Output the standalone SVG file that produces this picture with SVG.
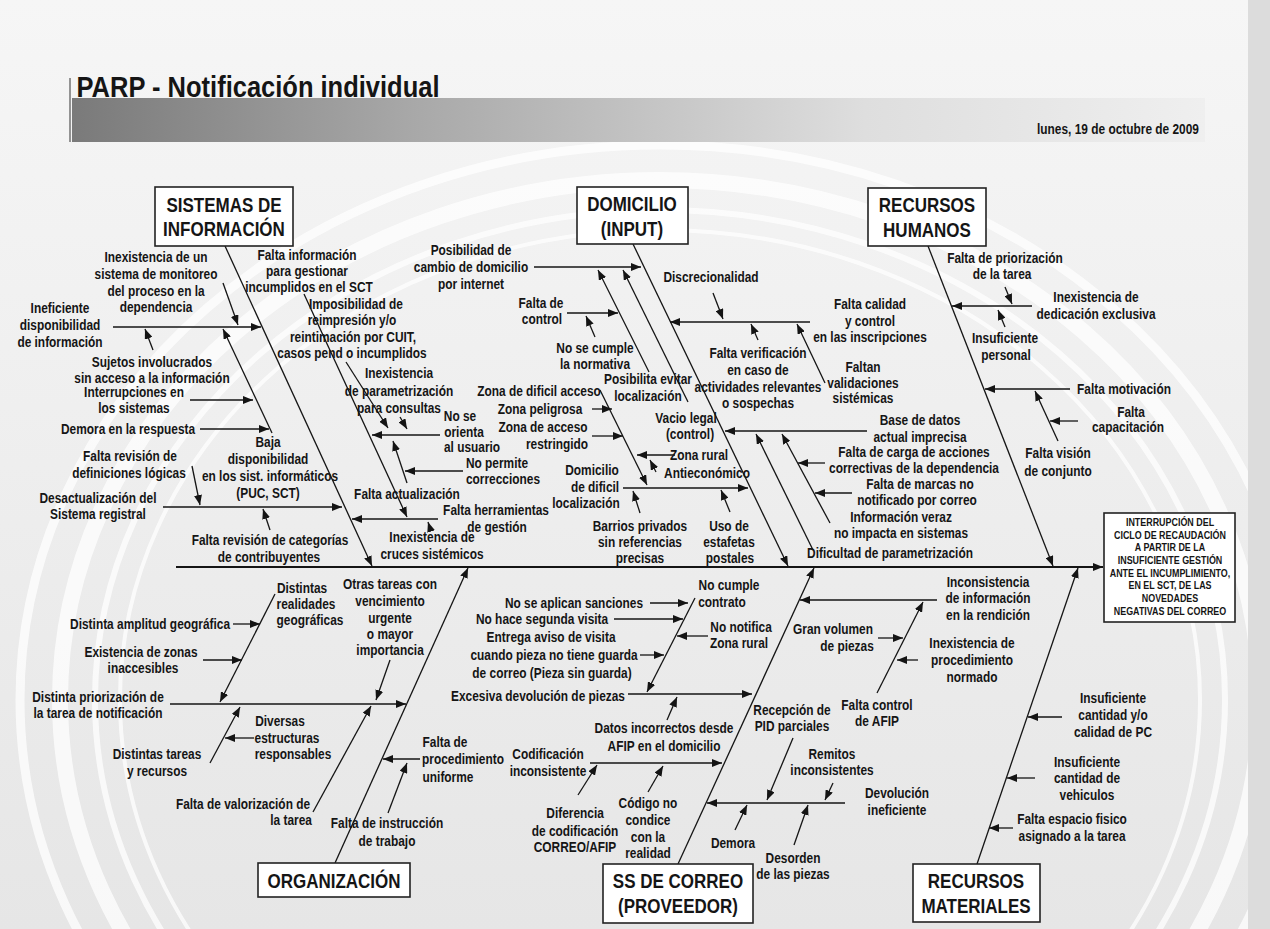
<svg xmlns="http://www.w3.org/2000/svg" width="1270" height="929" viewBox="0 0 1270 929">
<defs>
<linearGradient id="bgG" x1="0" y1="0" x2="0" y2="1"><stop offset="0" stop-color="#f6f6f6"/><stop offset="1" stop-color="#e6e6e6"/></linearGradient>
<linearGradient id="barG" x1="0" y1="0" x2="1" y2="0"><stop offset="0" stop-color="#7a7a7a"/><stop offset="0.3" stop-color="#a8a8a8"/><stop offset="0.7" stop-color="#dedede"/><stop offset="1" stop-color="#efefef"/></linearGradient>
<marker id="ah" viewBox="0 0 10 8" refX="10" refY="4" markerWidth="10" markerHeight="8" markerUnits="userSpaceOnUse" orient="auto"><path d="M0,0 L10,4 L0,8 z" fill="#141414"/></marker>
<style>
text{font-family:'Liberation Sans',Arial,sans-serif;font-weight:bold;fill:#151515;text-anchor:middle;transform-box:fill-box;transform-origin:center;transform:scaleX(0.85)}
.l{font-size:14px}
.c{font-size:20px}
.r{font-size:10.5px}
.ln{stroke:#151515;stroke-width:1.3;fill:none}
.a{marker-end:url(#ah)}
.box{fill:#fff;stroke:#222;stroke-width:1.6}
</style>
</defs>
<g id="background">
<rect width="1270" height="929" fill="url(#bgG)"/>
<g fill="none" stroke="#fff" opacity="0.75">
<ellipse cx="660" cy="700" rx="600" ry="520" stroke-width="16"/>
<ellipse cx="660" cy="700" rx="565" ry="490" stroke-width="6"/>
<ellipse cx="660" cy="700" rx="640" ry="555" stroke-width="9"/>
<ellipse cx="660" cy="700" rx="540" ry="470" stroke-width="4"/>
</g>
<rect x="1248" y="0" width="22" height="929" fill="#dcdcdc"/>
</g>
<g id="header">
<rect x="72" y="98" width="1133" height="44" fill="url(#barG)"/>
<line x1="70" y1="78" x2="70" y2="142" stroke="#333" stroke-width="1"/>
<text x="258" y="97" style="font-size:30px">PARP - Notificación individual</text>
<text x="1118" y="134" style="font-size:14px">lunes, 19 de octubre de 2009</text>
</g>
<g id="connectors">
<path class="ln" d="M176,567 L1103,567" style="stroke-width:2" marker-end="url(#ah)"/>
<path class="ln a" d="M225,246 L372,566"/>
<path class="ln a" d="M633,244 L788,566"/>
<path class="ln a" d="M928,246 L1053,566"/>
<path class="ln a" d="M335,863 L468,568"/>
<path class="ln a" d="M678,864 L814,568"/>
<path class="ln a" d="M977,864 L1078,568"/>
<path class="ln a" d="M113,327 L261,327"/>
<path class="ln a" d="M223,283 L238,325"/>
<path class="ln a" d="M153,350 L145,329"/>
<path class="ln a" d="M272,433 L223,329"/>
<path class="ln a" d="M190,400 L253,400"/>
<path class="ln a" d="M200,429 L269,429"/>
<path class="ln a" d="M163,507 L342,507"/>
<path class="ln a" d="M192,466 L200,505"/>
<path class="ln a" d="M270,530 L263,509"/>
<path class="ln a" d="M304,294 L407,517"/>
<path class="ln a" d="M346,362 L388,428"/>
<path class="ln a" d="M440,435 L372,435"/>
<path class="ln a" d="M400,417 L407,429"/>
<path class="ln a" d="M407,483 L393,441"/>
<path class="ln a" d="M463,471 L405,471"/>
<path class="ln a" d="M438,519 L352,519"/>
<path class="ln a" d="M431,531 L428,522"/>
<path class="ln a" d="M534,267 L641,267"/>
<path class="ln a" d="M649,372 L598,270"/>
<path class="ln a" d="M688,402 L623,270"/>
<path class="ln a" d="M567,313 L618,313"/>
<path class="ln a" d="M595,337 L586,316"/>
<path class="ln a" d="M713,293 L723,319"/>
<path class="ln a" d="M810,322 L670,322"/>
<path class="ln a" d="M758,340 L751,324"/>
<path class="ln a" d="M825,383 L797,324"/>
<path class="ln a" d="M600,390 L647,485"/>
<path class="ln a" d="M592,409 L612,409"/>
<path class="ln a" d="M592,436 L623,436"/>
<path class="ln a" d="M675,455 L637,455"/>
<path class="ln a" d="M656,472 L650,460"/>
<path class="ln a" d="M623,488 L748,488"/>
<path class="ln a" d="M640,513 L633,491"/>
<path class="ln a" d="M730,512 L721,490"/>
<path class="ln a" d="M867,431 L725,431"/>
<path class="ln a" d="M813,550 L756,434"/>
<path class="ln a" d="M830,523 L782,434"/>
<path class="ln a" d="M825,463 L798,463"/>
<path class="ln a" d="M852,493 L815,493"/>
<path class="ln a" d="M1005,287 L1012,304"/>
<path class="ln a" d="M1032,306 L952,306"/>
<path class="ln a" d="M1005,327 L998,310"/>
<path class="ln a" d="M1070,389 L985,389"/>
<path class="ln a" d="M1058,441 L1035,391"/>
<path class="ln a" d="M1078,421 L1050,421"/>
<path class="ln a" d="M390,660 L376,700"/>
<path class="ln a" d="M170,704 L406,704"/>
<path class="ln a" d="M275,594 L220,702"/>
<path class="ln a" d="M233,624 L260,624"/>
<path class="ln a" d="M203,660 L242,660"/>
<path class="ln a" d="M210,763 L240,707"/>
<path class="ln a" d="M254,738 L225,738"/>
<path class="ln a" d="M313,812 L371,706"/>
<path class="ln a" d="M420,759 L383,759"/>
<path class="ln a" d="M388,813 L407,763"/>
<path class="ln a" d="M695,598 L647,692"/>
<path class="ln a" d="M650,603 L688,603"/>
<path class="ln a" d="M614,619 L683,619"/>
<path class="ln a" d="M708,636 L677,636"/>
<path class="ln a" d="M640,655 L664,655"/>
<path class="ln a" d="M628,694 L752,694"/>
<path class="ln a" d="M667,720 L677,697"/>
<path class="ln a" d="M590,763 L722,763"/>
<path class="ln a" d="M578,795 L597,765"/>
<path class="ln a" d="M648,792 L663,766"/>
<path class="ln a" d="M845,803 L707,803"/>
<path class="ln a" d="M793,738 L767,800"/>
<path class="ln a" d="M833,783 L825,800"/>
<path class="ln a" d="M735,830 L747,805"/>
<path class="ln a" d="M794,845 L808,805"/>
<path class="ln a" d="M937,600 L800,600"/>
<path class="ln a" d="M877,693 L923,602"/>
<path class="ln a" d="M878,638 L903,638"/>
<path class="ln a" d="M918,660 L897,660"/>
<path class="ln a" d="M1062,717 L1028,717"/>
<path class="ln a" d="M1035,778 L1007,778"/>
<path class="ln a" d="M1013,828 L989,828"/>
</g>
<g id="cat-sistemas"><rect class="box" x="155" y="187" width="138" height="59"/><text class="c" x="224" y="212">SISTEMAS DE</text><text class="c" x="224" y="236">INFORMACIÓN</text></g>
<g id="cat-domicilio"><rect class="box" x="577" y="187" width="111" height="57"/><text class="c" x="632" y="211">DOMICILIO</text><text class="c" x="632" y="236">(INPUT)</text></g>
<g id="cat-rrhh"><rect class="box" x="868" y="188" width="118" height="58"/><text class="c" x="927" y="212">RECURSOS</text><text class="c" x="927" y="237">HUMANOS</text></g>
<g id="cat-organizacion"><rect class="box" x="258" y="863" width="152" height="34"/><text class="c" x="334" y="888">ORGANIZACIÓN</text></g>
<g id="cat-correo"><rect class="box" x="603" y="864" width="150" height="59"/><text class="c" x="678" y="888">SS DE CORREO</text><text class="c" x="678" y="913">(PROVEEDOR)</text></g>
<g id="cat-rrmm"><rect class="box" x="913" y="864" width="127" height="58"/><text class="c" x="976" y="888">RECURSOS</text><text class="c" x="976" y="913">MATERIALES</text></g>
<g id="effect"><rect class="box" x="1104" y="513" width="131" height="109"/>
<text class="r" x="1170" y="526">INTERRUPCIÓN DEL</text><text class="r" x="1170" y="539">CICLO DE RECAUDACIÓN</text><text class="r" x="1170" y="551">A PARTIR DE LA</text><text class="r" x="1170" y="564">INSUFICIENTE GESTIÓN</text><text class="r" x="1170" y="577">ANTE EL INCUMPLIMIENTO,</text><text class="r" x="1170" y="589">EN EL SCT, DE LAS</text><text class="r" x="1170" y="602">NOVEDADES</text><text class="r" x="1170" y="615">NEGATIVAS DEL CORREO</text></g>
<g id="si-monitoreo"><text class="l" x="156" y="262">Inexistencia de un</text><text class="l" x="156" y="279">sistema de monitoreo</text><text class="l" x="156" y="296">del proceso en la</text><text class="l" x="156" y="312">dependencia</text></g>
<g id="si-ineficiente"><text class="l" x="60" y="313">Ineficiente</text><text class="l" x="60" y="330">disponibilidad</text><text class="l" x="60" y="347">de información</text></g>
<g id="si-sujetos"><text class="l" x="152" y="367">Sujetos involucrados</text><text class="l" x="152" y="383">sin acceso a la información</text></g>
<g id="si-interrupciones"><text class="l" x="134" y="397">Interrupciones en</text><text class="l" x="134" y="413">los sistemas</text></g>
<g id="si-demora"><text class="l" x="128" y="434">Demora en la respuesta</text></g>
<g id="si-baja"><text class="l" x="268" y="447">Baja</text><text class="l" x="268" y="464">disponibilidad</text><text class="l" x="270" y="481">en los sist. informáticos</text><text class="l" x="268" y="498">(PUC, SCT)</text></g>
<g id="si-revdef"><text class="l" x="130" y="461">Falta revisión de</text><text class="l" x="129" y="478">definiciones lógicas</text></g>
<g id="si-desact"><text class="l" x="98" y="503">Desactualización del</text><text class="l" x="98" y="519">Sistema registral</text></g>
<g id="si-revcat"><text class="l" x="270" y="545">Falta revisión de categorías</text><text class="l" x="269" y="562">de contribuyentes</text></g>
<g id="si-faltainfo"><text class="l" x="307" y="260">Falta información</text><text class="l" x="307" y="276">para gestionar</text><text class="l" x="309" y="292">incumplidos en el SCT</text></g>
<g id="si-imposib"><text class="l" x="356" y="309">Imposibilidad de</text><text class="l" x="352" y="325">reimpresión y/o</text><text class="l" x="353" y="342">reintimación por CUIT,</text><text class="l" x="352" y="358">casos pend o incumplidos</text></g>
<g id="si-param"><text class="l" x="399" y="378">Inexistencia</text><text class="l" x="399" y="396">de parametrización</text><text class="l" x="399" y="413">para consultas</text></g>
<g id="si-orienta"><text class="l" x="460" y="421">No se</text><text class="l" x="464" y="437">orienta</text><text class="l" x="472" y="452">al usuario</text></g>
<g id="si-permite"><text class="l" x="497" y="468">No permite</text><text class="l" x="503" y="484">correcciones</text></g>
<g id="si-actualizacion"><text class="l" x="407" y="499">Falta actualización</text></g>
<g id="si-herramientas"><text class="l" x="496" y="515">Falta herramientas</text><text class="l" x="497" y="532">de gestión</text></g>
<g id="si-cruces"><text class="l" x="432" y="542">Inexistencia de</text><text class="l" x="432" y="559">cruces sistémicos</text></g>
<g id="dom-posibilidad"><text class="l" x="471" y="255">Posibilidad de</text><text class="l" x="471" y="272">cambio de domicilio</text><text class="l" x="471" y="289">por internet</text></g>
<g id="dom-discrecionalidad"><text class="l" x="711" y="282">Discrecionalidad</text></g>
<g id="dom-faltacontrol"><text class="l" x="541" y="308">Falta de</text><text class="l" x="542" y="324">control</text></g>
<g id="dom-normativa"><text class="l" x="595" y="353">No se cumple</text><text class="l" x="595" y="369">la normativa</text></g>
<g id="dom-posibilita"><text class="l" x="648" y="384">Posibilita evitar</text><text class="l" x="648" y="401">localización</text></g>
<g id="dom-zonadificil"><text class="l" x="539" y="396">Zona de dificil acceso</text></g>
<g id="dom-peligrosa"><text class="l" x="540" y="414">Zona peligrosa</text></g>
<g id="dom-restringido"><text class="l" x="543" y="432">Zona de acceso</text><text class="l" x="557" y="449">restringido</text></g>
<g id="dom-vacio"><text class="l" x="686" y="423">Vacio legal</text><text class="l" x="690" y="439">(control)</text></g>
<g id="dom-domdificil"><text class="l" x="592" y="475">Domicilio</text><text class="l" x="595" y="492">de dificil</text><text class="l" x="586" y="508">localización</text></g>
<g id="dom-zonarural"><text class="l" x="699" y="460">Zona rural</text></g>
<g id="dom-antieconomico"><text class="l" x="707" y="478">Antieconómico</text></g>
<g id="dom-barrios"><text class="l" x="640" y="531">Barrios privados</text><text class="l" x="640" y="547">sin referencias</text><text class="l" x="640" y="563">precisas</text></g>
<g id="dom-estafetas"><text class="l" x="729" y="531">Uso de</text><text class="l" x="729" y="547">estafetas</text><text class="l" x="730" y="563">postales</text></g>
<g id="dom-calidad"><text class="l" x="870" y="309">Falta calidad</text><text class="l" x="870" y="326">y control</text><text class="l" x="870" y="342">en las inscripciones</text></g>
<g id="dom-verificacion"><text class="l" x="758" y="358">Falta verificación</text><text class="l" x="758" y="375">en caso de</text><text class="l" x="758" y="392">actividades relevantes</text><text class="l" x="758" y="408">o sospechas</text></g>
<g id="dom-validaciones"><text class="l" x="863" y="372">Faltan</text><text class="l" x="863" y="388">validaciones</text><text class="l" x="863" y="403">sistémicas</text></g>
<g id="dom-basedatos"><text class="l" x="920" y="425">Base de datos</text><text class="l" x="920" y="442">actual imprecisa</text></g>
<g id="dom-carga"><text class="l" x="914" y="457">Falta de carga de acciones</text><text class="l" x="914" y="473">correctivas de la dependencia</text></g>
<g id="dom-marcas"><text class="l" x="920" y="489">Falta de marcas no</text><text class="l" x="917" y="505">notificado por correo</text></g>
<g id="dom-veraz"><text class="l" x="901" y="522">Información veraz</text><text class="l" x="901" y="538">no impacta en sistemas</text></g>
<g id="dom-dificultad"><text class="l" x="890" y="558">Dificultad de parametrización</text></g>
<g id="rh-priorizacion"><text class="l" x="1005" y="263">Falta de priorización</text><text class="l" x="1002" y="279">de la tarea</text></g>
<g id="rh-dedicacion"><text class="l" x="1096" y="302">Inexistencia de</text><text class="l" x="1096" y="319">dedicación exclusiva</text></g>
<g id="rh-personal"><text class="l" x="1005" y="343">Insuficiente</text><text class="l" x="1006" y="360">personal</text></g>
<g id="rh-motivacion"><text class="l" x="1124" y="394">Falta motivación</text></g>
<g id="rh-capacitacion"><text class="l" x="1131" y="417">Falta</text><text class="l" x="1128" y="432">capacitación</text></g>
<g id="rh-vision"><text class="l" x="1058" y="458">Falta visión</text><text class="l" x="1058" y="476">de conjunto</text></g>
<g id="org-otras"><text class="l" x="390" y="589">Otras tareas con</text><text class="l" x="390" y="606">vencimiento</text><text class="l" x="390" y="623">urgente</text><text class="l" x="390" y="639">o mayor</text><text class="l" x="390" y="655">importancia</text></g>
<g id="org-realidades"><text class="l" x="302" y="593">Distintas</text><text class="l" x="306" y="609">realidades</text><text class="l" x="310" y="625">geográficas</text></g>
<g id="org-amplitud"><text class="l" x="150" y="629">Distinta amplitud geográfica</text></g>
<g id="org-zonas"><text class="l" x="141" y="657">Existencia de zonas</text><text class="l" x="143" y="673">inaccesibles</text></g>
<g id="org-priorizacion"><text class="l" x="98" y="702">Distinta priorización de</text><text class="l" x="98" y="718">la tarea de notificación</text></g>
<g id="org-diversas"><text class="l" x="280" y="726">Diversas</text><text class="l" x="287" y="743">estructuras</text><text class="l" x="293" y="759">responsables</text></g>
<g id="org-tareas"><text class="l" x="157" y="759">Distintas tareas</text><text class="l" x="157" y="776">y recursos</text></g>
<g id="org-valorizacion"><text class="l" x="243" y="809">Falta de valorización de</text><text class="l" x="291" y="825">la tarea</text></g>
<g id="org-procedimiento"><text class="l" x="445" y="747">Falta de</text><text class="l" x="463" y="764">procedimiento</text><text class="l" x="448" y="782">uniforme</text></g>
<g id="org-instruccion"><text class="l" x="387" y="828">Falta de instrucción</text><text class="l" x="387" y="846">de trabajo</text></g>
<g id="co-contrato"><text class="l" x="729" y="590">No cumple</text><text class="l" x="722" y="607">contrato</text></g>
<g id="co-sanciones"><text class="l" x="574" y="608">No se aplican sanciones</text></g>
<g id="co-segunda"><text class="l" x="542" y="624">No hace segunda visita</text></g>
<g id="co-notifica"><text class="l" x="741" y="632">No notifica</text><text class="l" x="739" y="648">Zona rural</text></g>
<g id="co-aviso"><text class="l" x="551" y="642">Entrega aviso de visita</text><text class="l" x="554" y="660">cuando pieza no tiene guarda</text><text class="l" x="552" y="678">de correo (Pieza sin guarda)</text></g>
<g id="co-excesiva"><text class="l" x="538" y="701">Excesiva devolución de piezas</text></g>
<g id="co-datos"><text class="l" x="664" y="733">Datos incorrectos desde</text><text class="l" x="664" y="751">AFIP en el domicilio</text></g>
<g id="co-codificacion"><text class="l" x="548" y="759">Codificación</text><text class="l" x="548" y="776">inconsistente</text></g>
<g id="co-diferencia"><text class="l" x="575" y="818">Diferencia</text><text class="l" x="575" y="836">de codificación</text><text class="l" x="575" y="852">CORREO/AFIP</text></g>
<g id="co-codigo"><text class="l" x="648" y="808">Código no</text><text class="l" x="648" y="825">condice</text><text class="l" x="648" y="842">con la</text><text class="l" x="648" y="858">realidad</text></g>
<g id="co-recepcion"><text class="l" x="792" y="715">Recepción de</text><text class="l" x="792" y="731">PID parciales</text></g>
<g id="co-remitos"><text class="l" x="832" y="759">Remitos</text><text class="l" x="832" y="775">inconsistentes</text></g>
<g id="co-devolucion"><text class="l" x="897" y="798">Devolución</text><text class="l" x="897" y="815">ineficiente</text></g>
<g id="co-demora"><text class="l" x="733" y="848">Demora</text></g>
<g id="co-desorden"><text class="l" x="793" y="863">Desorden</text><text class="l" x="793" y="879">de las piezas</text></g>
<g id="rm-inconsistencia"><text class="l" x="988" y="587">Inconsistencia</text><text class="l" x="988" y="603">de información</text><text class="l" x="988" y="620">en la rendición</text></g>
<g id="rm-volumen"><text class="l" x="833" y="634">Gran volumen</text><text class="l" x="847" y="651">de piezas</text></g>
<g id="rm-procedimiento"><text class="l" x="972" y="648">Inexistencia de</text><text class="l" x="972" y="665">procedimiento</text><text class="l" x="972" y="682">normado</text></g>
<g id="rm-control"><text class="l" x="877" y="710">Falta control</text><text class="l" x="877" y="726">de AFIP</text></g>
<g id="rm-pc"><text class="l" x="1113" y="703">Insuficiente</text><text class="l" x="1113" y="720">cantidad y/o</text><text class="l" x="1113" y="737">calidad de PC</text></g>
<g id="rm-vehiculos"><text class="l" x="1087" y="767">Insuficiente</text><text class="l" x="1087" y="783">cantidad de</text><text class="l" x="1087" y="800">vehiculos</text></g>
<g id="rm-espacio"><text class="l" x="1072" y="824">Falta espacio fisico</text><text class="l" x="1072" y="841">asignado a la tarea</text></g>
</svg>
